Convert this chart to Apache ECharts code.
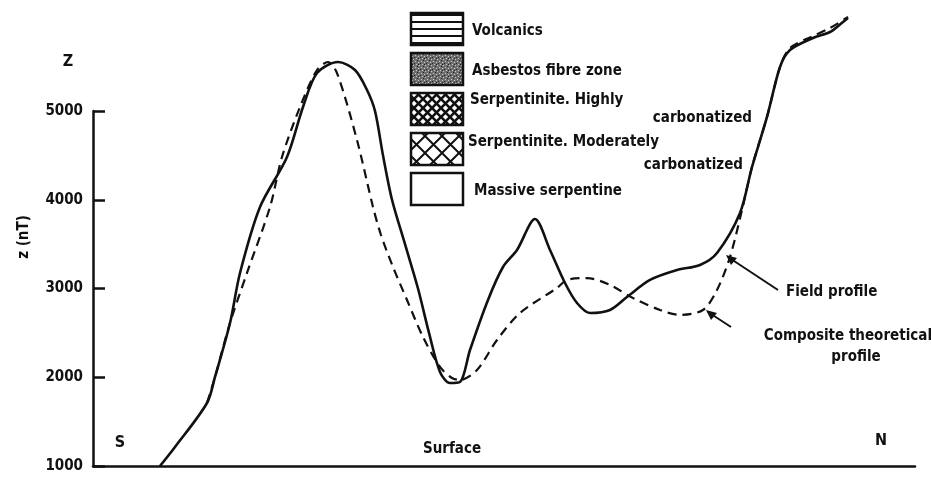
<!DOCTYPE html>
<html>
<head>
<meta charset="utf-8">
<script src="https://cdn.jsdelivr.net/npm/echarts@6/dist/echarts.min.js"></script>
<style>
  html, body { margin: 0; padding: 0; background: #fff; }
  #chart { width: 931px; height: 477px; }
</style>
</head>
<body>
<div id="chart"></div>
<script>
// distance along profile (arbitrary units), z in nT
var fieldX = [67, 82, 114, 122, 137, 147, 167, 194, 210, 224, 245, 262, 274, 282, 290, 299, 312, 325, 336, 347, 357, 367, 377, 395, 410, 424, 442, 457, 472, 484, 497, 517, 534, 557, 584, 607, 624, 647, 659, 674, 687, 697, 720, 737, 750, 755];
var fieldZ = [1000, 1214, 1710, 2003, 2611, 3175, 3918, 4482, 5045, 5428, 5552, 5462, 5237, 5000, 4500, 4000, 3500, 3000, 2500, 2060, 1935, 1946, 2307, 2871, 3242, 3434, 3783, 3434, 3062, 2837, 2724, 2758, 2904, 3096, 3208, 3265, 3400, 3851, 4369, 4933, 5496, 5687, 5823, 5890, 6003, 6048];

var compX = [114, 122, 137, 154, 177, 189, 207, 224, 235, 244, 264, 280, 288, 300, 314, 330, 347, 359, 367, 384, 404, 427, 464, 474, 494, 517, 540, 567, 587, 610, 624, 637, 649, 659, 674, 687, 697, 720, 737, 755];
var compZ = [1710, 2003, 2611, 3175, 3918, 4482, 5045, 5462, 5552, 5428, 4673, 3918, 3603, 3242, 2871, 2454, 2116, 1992, 1969, 2082, 2420, 2724, 3006, 3096, 3118, 3040, 2893, 2758, 2702, 2758, 2983, 3355, 3885, 4369, 4933, 5496, 5710, 5845, 5935, 6060];

var yTicks = [1000, 2000, 3000, 4000, 5000];
var legendNames = ['Volcanics', 'Asbestos fibre zone', 'Serpentinite. Highly', 'Serpentinite. Moderately', 'Massive serpentine'];
var legendTypes = ['lines', 'stipple', 'fineHatch', 'coarseHatch', 'none'];

var FONT = 'DejaVu Sans Condensed';

function pairs(xs, ys) {
    return xs.map(function (x, i) { return [x, ys[i]]; });
}

// little canvas tiles for the legend swatches
function makePattern(type) {
    var c = document.createElement('canvas');
    var ctx = c.getContext('2d');
    if (type == 'lines') {
        c.width = 8; c.height = 7;
        ctx.fillStyle = '#fff'; ctx.fillRect(0, 0, 8, 7);
        ctx.fillStyle = '#111'; ctx.fillRect(0, 0, 8, 2);
    } else if (type == 'stipple') {
        c.width = 6; c.height = 6;
        ctx.fillStyle = '#6e6e6e'; ctx.fillRect(0, 0, 6, 6);
        ctx.fillStyle = '#c8c8c8';
        ctx.fillRect(1, 1, 1, 1); ctx.fillRect(4, 2, 1, 1); ctx.fillRect(2, 4, 1, 1); ctx.fillRect(5, 5, 1, 1);
        ctx.fillStyle = '#222';
        ctx.fillRect(3, 0, 1, 1); ctx.fillRect(0, 3, 1, 1); ctx.fillRect(4, 4, 1, 1);
    } else if (type == 'fineHatch' || type == 'coarseHatch') {
        var s = type == 'fineHatch' ? 9 : 17;
        c.width = s; c.height = s;
        ctx.fillStyle = '#fff'; ctx.fillRect(0, 0, s, s);
        ctx.strokeStyle = '#111';
        ctx.lineWidth = type == 'fineHatch' ? 2.6 : 2;
        ctx.beginPath();
        ctx.moveTo(0, 0); ctx.lineTo(s, s);
        ctx.moveTo(s, 0); ctx.lineTo(0, s);
        ctx.stroke();
    } else {
        c.width = 2; c.height = 2;
        ctx.fillStyle = '#fff'; ctx.fillRect(0, 0, 2, 2);
    }
    return c;
}

function buildLegend() {
    var items = [];
    legendTypes.forEach(function (t, i) {
        var top = 13 + i * 40;
        items.push({
            type: 'rect',
            shape: { x: 411, y: top, width: 52, height: 32 },
            style: { fill: { image: makePattern(t), repeat: 'repeat' }, stroke: '#111', lineWidth: 2.5 }
        });
    });
    var txt = [
        [472, 31, legendNames[0], 'left'],
        [472, 71, legendNames[1], 'left'],
        [470, 100, legendNames[2], 'left'],
        [752, 118, 'carbonatized', 'right'],
        [468, 142, legendNames[3], 'left'],
        [743, 165, 'carbonatized', 'right'],
        [474, 191, legendNames[4], 'left']
    ];
    txt.forEach(function (t) {
        items.push({
            type: 'text', x: t[0], y: t[1],
            style: { text: t[2], align: t[3], verticalAlign: 'middle', font: 'bold 15px "' + FONT + '"', fill: '#111' }
        });
    });
    return items;
}

function annotations() {
    var f = 'bold 15px "' + FONT + '"';
    return [
        { type: 'text', x: 68, y: 62, style: { text: 'Z', align: 'center', verticalAlign: 'middle', font: 'bold 16px "' + FONT + '"', fill: '#111' } },
        { type: 'text', x: 24, y: 237, rotation: Math.PI / 2, style: { text: 'z (nT)', align: 'center', verticalAlign: 'middle', font: 'bold 15px "' + FONT + '"', fill: '#111' } },
        { type: 'text', x: 120, y: 443, style: { text: 'S', align: 'center', verticalAlign: 'middle', font: 'bold 16px "' + FONT + '"', fill: '#111' } },
        { type: 'text', x: 452, y: 449, style: { text: 'Surface', align: 'center', verticalAlign: 'middle', font: f, fill: '#111' } },
        { type: 'text', x: 881, y: 441, style: { text: 'N', align: 'center', verticalAlign: 'middle', font: 'bold 16px "' + FONT + '"', fill: '#111' } },
        { type: 'text', x: 786, y: 292, style: { text: 'Field profile', align: 'left', verticalAlign: 'middle', font: f, fill: '#111' } },
        { type: 'text', x: 932, y: 336, style: { text: 'Composite theoretical', align: 'right', verticalAlign: 'middle', font: f, fill: '#111' } },
        { type: 'text', x: 856, y: 357, style: { text: 'profile', align: 'center', verticalAlign: 'middle', font: f, fill: '#111' } },
        { type: 'line', shape: { x1: 728, y1: 257, x2: 778, y2: 290 }, style: { stroke: '#111', lineWidth: 2 } },
        { type: 'polygon', shape: { points: [[726, 255], [737, 258], [731, 265]] }, style: { fill: '#111' } },
        { type: 'line', shape: { x1: 708, y1: 312, x2: 731, y2: 327 }, style: { stroke: '#111', lineWidth: 2 } },
        { type: 'polygon', shape: { points: [[706, 310], [717, 313], [711, 320]] }, style: { fill: '#111' } }
    ];
}

var myChart = echarts.init(document.getElementById('chart'));
var option = {
    animation: false,
    backgroundColor: '#fff',
    grid: { left: 93, right: 16, top: 111, bottom: 11 },
    xAxis: {
        type: 'value', min: 0, max: 822,
        axisLine: { lineStyle: { color: '#111', width: 2.5 } },
        axisTick: { show: false },
        axisLabel: { show: false },
        splitLine: { show: false }
    },
    yAxis: {
        type: 'value', min: yTicks[0], max: yTicks[yTicks.length - 1], interval: 1000,
        axisLine: { show: true, lineStyle: { color: '#111', width: 2.5 } },
        axisTick: { show: true, inside: true, length: 12, lineStyle: { color: '#111', width: 2.5 } },
        axisLabel: {
            margin: 10, color: '#111', fontFamily: FONT, fontWeight: 'bold', fontSize: 15,
            formatter: function (v) { return String(v); }
        },
        splitLine: { show: false }
    },
    series: [
        {
            name: 'Field profile', type: 'line', clip: false, smooth: 0.3,
            symbol: 'none', data: pairs(fieldX, fieldZ),
            lineStyle: { color: '#111', width: 2.6 }
        },
        {
            name: 'Composite theoretical profile', type: 'line', clip: false, smooth: 0.3,
            symbol: 'none', data: pairs(compX, compZ),
            lineStyle: { color: '#111', width: 2.2, type: [9, 6] }
        }
    ],
    graphic: buildLegend().concat(annotations())
};
myChart.setOption(option);
</script>
</body>
</html>
